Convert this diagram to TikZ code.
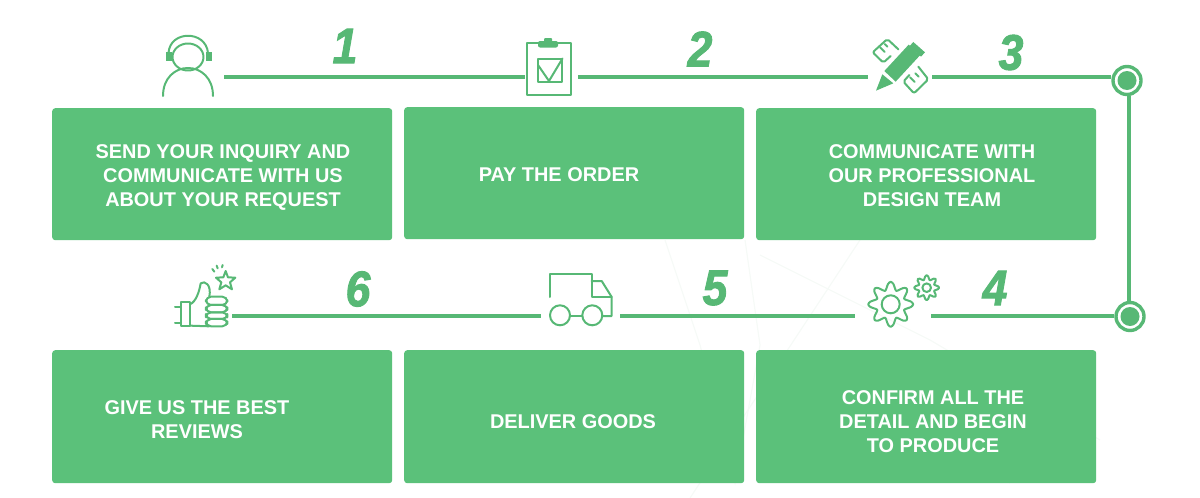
\documentclass[tikz,border=0pt]{standalone}
\usepackage{fontspec}
\setmainfont{Liberation Sans}
\newfontfamily\numfont[BoldItalicFeatures={FakeBold=2}]{Liberation Sans}
\usepackage{xcolor}
\usetikzlibrary{positioning}
\definecolor{leaf}{HTML}{5BC17A}
\definecolor{stem}{HTML}{57B875}
\definecolor{haze}{HTML}{F6FAF7}
\newcommand{\stepnum}[1]{\scalebox{.89}[1]{\numfont\itshape\bfseries #1}}
\begin{document}
\begin{tikzpicture}[x=1pt, y=-1pt,
  card/.style={fill=leaf, rounded corners=3pt, minimum width=340pt, minimum height=132pt,
               inner sep=0pt, anchor=north west},
  cardtext/.style={text=white, align=center, font=\fontsize{19.9}{24.2}\selectfont\bfseries},
  num/.style={text=stem, inner sep=0pt, font=\fontsize{50}{50}\selectfont},
  spot/.style={minimum height=10pt, inner sep=0pt},
  ring/.style={circle, draw=stem, line width=3.4pt, fill=white, minimum size=28pt, inner sep=0pt},
  link/.style={draw=stem, line width=4pt},
  icon/.style={draw=stem, line width=2pt, line cap=round, line join=round}]
\useasboundingbox (0,0) rectangle (1200,498);
% --- faint backdrop ---
\begin{scope}[draw=haze, line width=1.2pt]
\draw (665,240) -- (700,345) -- (735,483) -- (760,345) -- (745,240);
\draw (760,255) -- (930,340) -- (1100,440);
\draw (850,395) -- (1010,483);
\draw (690,498) -- (860,240);
\end{scope}
% --- cards ---
\node[card] (send) at (52,108) {};
\node[card] (pay) at (404,107) {};
\node[card] (talk) at (756,108) {};
\node[card, minimum height=133pt] (review) at (52,350) {};
\node[card, minimum height=133pt] (deliver) at (404,350) {};
\node[card, minimum height=133pt] (confirm) at (756,350) {};
\node[cardtext] (sendtext) at (223,177.5) {SEND YOUR INQUIRY AND\\COMMUNICATE WITH US\\ABOUT YOUR REQUEST};
\node[cardtext] (paytext) at (559,175) {PAY THE ORDER};
\node[cardtext] (talktext) at (932,175.5) {COMMUNICATE WITH\\OUR PROFESSIONAL\\DESIGN TEAM};
\node[cardtext] (reviewtext) at (197,419.5) {GIVE US THE BEST\\REVIEWS};
\node[cardtext] (delivertext) at (573,421.5) {DELIVER GOODS};
\node[cardtext] (confirmtext) at (933,421.5) {CONFIRM ALL THE\\DETAIL AND BEGIN\\TO PRODUCE};
% --- numbers ---
\node[num] (n1) at (345,46) {\stepnum{1}};
\node[num] (n2) at (700,49) {\stepnum{2}};
\node[num] (n3) at (1011,52.5) {\stepnum{3}};
\node[num] (n4) at (995,288) {\stepnum{4}};
\node[num] (n5) at (715,288) {\stepnum{5}};
\node[num] (n6) at (358,289) {\stepnum{6}};
% --- connector ends, one gap for each icon ---
\node[spot, minimum width=64pt] (headset) at (192,76.5) {};
\node[spot, minimum width=53pt] (board) at (551.5,76.5) {};
\node[spot, minimum width=64pt] (pencil) at (900,76.5) {};
\node[spot, minimum width=76pt] (gears) at (893,316) {};
\node[spot, minimum width=79pt] (truck) at (580.5,316) {};
\node[spot, minimum width=64pt] (thumb) at (200,316) {};
\node[ring] (top) at (1127,80.5) {};
\node[ring] (bottom) at (1130,316.5) {};
\fill[stem] (top) circle (9.5pt);
\fill[stem] (bottom) circle (9.5pt);
\draw[link] (headset.east) -- (board.west);
\draw[link] (board.east) -- (pencil.west);
\draw[link] (pencil.east) -- (pencil.east -| top.west);
\draw[link] (top.south -| 1129,0) -- (bottom.north -| 1129,0);
\draw[link] (bottom.west |- gears.east) -- (gears.east);
\draw[link] (gears.west) -- (truck.east);
\draw[link] (truck.west) -- (thumb.east);
% --- headset ---
\draw[icon] (188,57) ellipse (15.5pt and 13.5pt);
\draw[icon] (168.5,53) .. controls (170,30) and (206,30) .. (208,53);
\draw[icon] (163,96) .. controls (163,78) and (175,68) .. (188,68) .. controls (201,68) and (213,78) .. (213,96);
\fill[stem] (165.5,52) rectangle (172,61);
\fill[stem] (205.5,52) rectangle (212,61);
% --- clipboard ---
\draw[icon] (527,43) rectangle (571,95);
\fill[stem, rounded corners=2pt] (538,41) rectangle (558,47.5);
\fill[stem, rounded corners=1pt] (544,38) rectangle (552,42);
\draw[icon] (537.5,59) rectangle (561.5,81.5);
\draw[icon] (538,65) -- (549,81) -- (562.5,58.5);
% --- pencil and ruler ---
\begin{scope}[shift={(850,20)}, x=0.3333pt, y=-0.3333pt]
\fill[stem] (78,212) -- (97,163) -- (130,190) -- cycle;
\fill[stem] (103,153) -- (176,74) -- (210,106) -- (137,185) -- cycle;
\fill[stem] (190,66) -- (225,97) -- (213,110) -- (178,79) -- cycle;
\draw[icon, rounded corners=2pt] (122,108) -- (100,128) -- (68,97) -- (112,57) -- (145,88);
\draw[icon] (90,82) -- (104,96);
\draw[icon] (104,72) -- (112,80);
\draw[icon, rounded corners=2pt] (205,140) -- (235,178) -- (192,220) -- (160,185) -- (178,165);
\draw[icon] (180,172) -- (194,186);
\draw[icon] (196,160) -- (206,170);
\end{scope}
% --- gears ---
\draw[icon] plot[smooth cycle, samples=48, domain=0:352.5]
  ({890.7+(14.5+8*(0.5+0.5*cos(8*\x)))*cos(\x)}, {304.3+(14.5+8*(0.5+0.5*cos(8*\x)))*sin(\x)});
\draw[icon] (890.7,304.3) circle (9pt);
\draw[icon] plot[smooth cycle, samples=48, domain=0:352.5]
  ({926.7+(8+4.5*(0.5+0.5*cos(8*\x)))*cos(\x)}, {287.7+(8+4.5*(0.5+0.5*cos(8*\x)))*sin(\x)});
\draw[icon] (926.7,287.7) circle (4.3pt);
% --- truck ---
\draw[icon] (550,297) -- (550,274) -- (591.7,274) -- (591.7,297) -- (611.7,297);
\draw[icon] (591.7,281) -- (601.7,281) -- (611.7,297) -- (611.7,316) -- (602.7,316);
\draw[icon] (560,315.3) circle (10pt);
\draw[icon] (592.3,315.3) circle (10pt);
\draw[icon] (570,316) -- (582.3,316);
% --- thumb and star ---
\begin{scope}[shift={(160,255)}, x=0.3333pt, y=-0.3333pt]
\draw[icon] (62,140) -- (90,140) -- (90,212) -- (62,212) -- cycle;
\draw[icon] (45,155) -- (62,155);
\draw[icon] (45,205) -- (62,205);
\draw[icon] (90,148) .. controls (108,140) and (118,110) .. (122,85) .. controls (135,75) and (155,90) .. (148,125);
\draw[icon] (90,212) -- (148,214);
\foreach \y/\h in {125/25, 150/22, 172/20, 192/22}
  \draw[icon, rounded corners=5pt] (138,\y) rectangle (202,\y+\h);
\draw[icon] plot coordinates {(197,48) (204,67) (226,68) (210,82) (216,103) (197,91) (178,103) (184,82) (168,68) (190,67) (197,48)};
\foreach \a/\b/\c/\d in {157/42/163/50, 170/32/173/40, 188/30/186/37}
  \draw[icon] (\a,\b) -- (\c,\d);
\end{scope}
\end{tikzpicture}
\end{document}
